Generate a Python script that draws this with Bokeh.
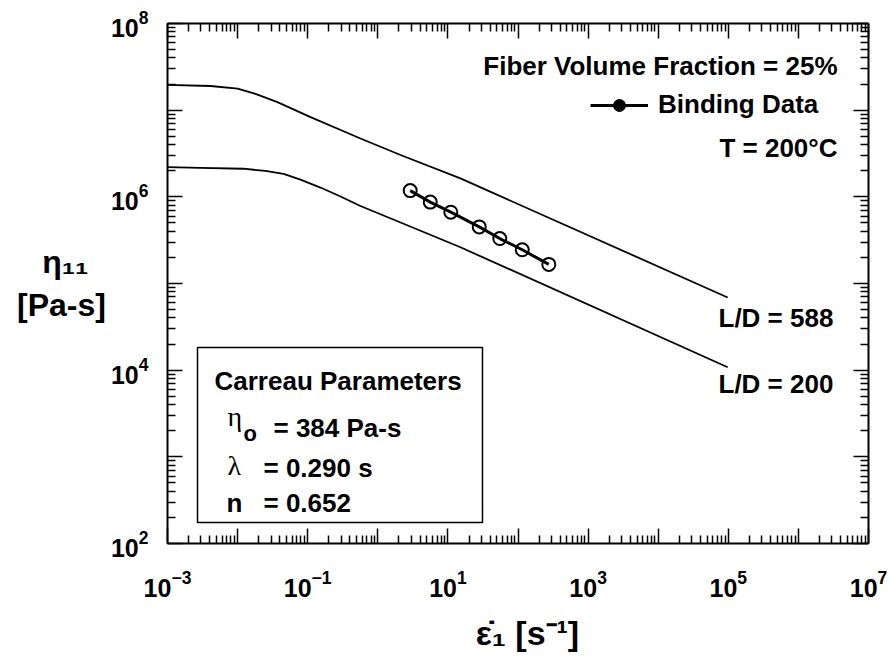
from bokeh.plotting import figure
from bokeh.models import (LogAxis, FixedTicker, Label, BoxAnnotation, Legend,
                          LegendItem, ColumnDataSource, Range1d,
                          CustomJSTickFormatter)
from bokeh.embed import file_html
from bokeh.resources import INLINE

# ---------------- data ----------------
x_major = [1e-3, 1e-2, 1e-1, 1e0, 1e1, 1e2, 1e3, 1e4, 1e5, 1e6, 1e7]
y_major = [1e2, 1e3, 1e4, 1e5, 1e6, 1e7, 1e8]
x_unlabeled = [1e-2, 1e0, 1e2, 1e4, 1e6]
y_unlabeled = [1e3, 1e5, 1e7]
x_title = "\u00a0\u00a0\u03b5\u0307\u2081 [s\u207b\u00b9]"
y_title = "\u03b7\u2081\u2081\u00a0\u00a0\n[Pa-s]"

# L/D = 588 curve
ld588_x = [0.001, 0.0041, 0.01, 0.018, 0.037, 0.11, 0.566, 2.11, 15.1, 9.8e4]
ld588_y = [1.96e7, 1.90e7, 1.77e7, 1.54e7, 1.24e7, 8.3e6, 4.71e6, 3.04e6, 1.63e6, 6.9e4]
# L/D = 200 curve
ld200_x = [0.001, 0.00296, 0.0121, 0.025, 0.0452, 0.0789, 0.152, 0.294, 0.566, 2.11, 15.1, 9.8e4]
ld200_y = [2.20e6, 2.16e6, 2.11e6, 1.99e6, 1.84e6, 1.58e6, 1.28e6, 1.01e6, 7.84e5, 5.06e5, 2.62e5, 1.08e4]
# Binding data
bind_x = [2.9, 5.6, 11.0, 28.0, 55.0, 115.0, 275.0]
bind_y = [1.18e6, 8.7e5, 6.65e5, 4.5e5, 3.3e5, 2.45e5, 1.66e5]

FONT = "Liberation Sans"
SERIF = "Liberation Serif"

p = figure(width=889, height=663, x_axis_type="log", y_axis_type="log",
           x_range=Range1d(1e-3, 1e7), y_range=Range1d(1e2, 1e8),
           output_backend="svg", toolbar_location=None,
           min_border_left=167, min_border_right=21,
           min_border_top=23, min_border_bottom=120)
p.grid.visible = False
p.outline_line_color = None
p.background_fill_color = "white"
p.border_fill_color = "white"

top_ax = LogAxis(formatter=CustomJSTickFormatter(code="return ''"))
right_ax = LogAxis(formatter=CustomJSTickFormatter(code="return ''"))
p.add_layout(top_ax, "above")
p.add_layout(right_ax, "right")

x_minor = [m * 10.0 ** k for k in range(-3, 7) for m in range(2, 10)]
y_minor = [m * 10.0 ** k for k in range(2, 8) for m in range(2, 10)]

for ax in p.xaxis:
    ax.ticker = FixedTicker(ticks=x_major, minor_ticks=x_minor)
for ax in p.yaxis:
    ax.ticker = FixedTicker(ticks=y_major, minor_ticks=y_minor)
for ax in p.axis:
    ax.major_tick_in = 15
    ax.major_tick_out = 0
    ax.minor_tick_in = 8
    ax.minor_tick_out = 0
    ax.axis_line_width = 2
    ax.axis_line_color = "black"
    ax.major_tick_line_width = 1.5
    ax.minor_tick_line_width = 1.5
    ax.major_tick_line_color = "black"
    ax.minor_tick_line_color = "black"
    ax.major_label_standoff = 0
    ax.major_label_text_font = FONT
    ax.major_label_text_font_style = "bold"
    ax.major_label_text_font_size = "25px"
    ax.major_label_text_color = "black"

top_ax.axis_label = None
right_ax.axis_label = None

bx = p.below[0]
bx.major_label_overrides = {v: "" for v in x_unlabeled}
bx.major_label_standoff = 26
bx.axis_label = x_title
bx.axis_label_standoff = 14
bx.axis_label_text_font = FONT
bx.axis_label_text_font_style = "bold"
bx.axis_label_text_font_size = "34px"
bx.axis_label_text_color = "black"

ly = p.left[0]
ly.major_label_overrides = {v: "" for v in y_unlabeled}
ly.major_label_standoff = 19
ly.major_label_orientation = "horizontal"
ly.axis_label = y_title
ly.axis_label_orientation = "horizontal"
ly.axis_label_standoff = 2
ly.axis_label_text_font = FONT
ly.axis_label_text_font_style = "bold"
ly.axis_label_text_font_size = "32px"
ly.axis_label_text_color = "black"
ly.axis_label_text_align = "center"

# curves
p.line(ld588_x, ld588_y, line_color="black", line_width=1.8)
p.line(ld200_x, ld200_y, line_color="black", line_width=1.8)

# binding data
src = ColumnDataSource(dict(x=bind_x, y=bind_y))
p.line("x", "y", source=src, line_color="black", line_width=3)
p.scatter("x", "y", source=src, marker="circle", size=13, fill_color=None,
          line_color="black", line_width=2)

# legend sample (legend-only renderers, nothing drawn in the frame)
leg_src = ColumnDataSource(dict(x=[float("nan")], y=[float("nan")]))
r1 = p.line("x", "y", source=leg_src, line_color="black", line_width=3)
r2 = p.scatter("x", "y", source=leg_src, marker="circle", size=8,
               fill_color="black", line_color="black")
legend = Legend(items=[LegendItem(label="Binding Data", renderers=[r1, r2])],
                location=(423, 423), glyph_width=58, glyph_height=30,
                label_height=30, label_standoff=10, padding=0, margin=0,
                border_line_color=None, background_fill_alpha=0,
                label_text_font=FONT, label_text_font_style="bold",
                label_text_font_size="26px", label_text_color="black")
p.add_layout(legend)


def lab(text, x, y, size, align="left", baseline="middle", font=FONT,
        style="bold"):
    p.add_layout(Label(x=x, y=y, x_units="screen", y_units="screen", text=text,
                       text_align=align, text_baseline=baseline,
                       text_font=font, text_font_style=style,
                       text_font_size=f"{size}px", text_color="black"))


# annotations
lab("Fiber Volume Fraction = 25%", 670, 478, 26, align="right")
lab("T = 200\u00b0C", 670, 396, 26, align="right")
lab("L/D = 588", 551, 226, 26)
lab("L/D = 200", 551, 160, 26)

# Carreau box
p.add_layout(BoxAnnotation(left=30, right=315, bottom=21, top=196,
                           left_units="screen", right_units="screen",
                           bottom_units="screen", top_units="screen",
                           fill_alpha=0, line_color="black", line_alpha=1,
                           line_width=1.5, level="overlay"))
lab("Carreau Parameters", 47, 163, 26)
lab("\u03b7", 60, 127, 28, baseline="alphabetic", font=SERIF, style="normal")
lab("o", 76, 110, 22, baseline="alphabetic")
lab("= 384 Pa-s", 106, 116, 26, baseline="alphabetic")
lab("\u03bb", 60, 78, 28, baseline="alphabetic", font=SERIF, style="normal")
lab("= 0.290 s", 96, 76, 26, baseline="alphabetic")
lab("n", 59, 41, 26, baseline="alphabetic")
lab("= 0.652", 96, 41, 26, baseline="alphabetic")

open("out.html", "w").write(file_html(p, INLINE))
